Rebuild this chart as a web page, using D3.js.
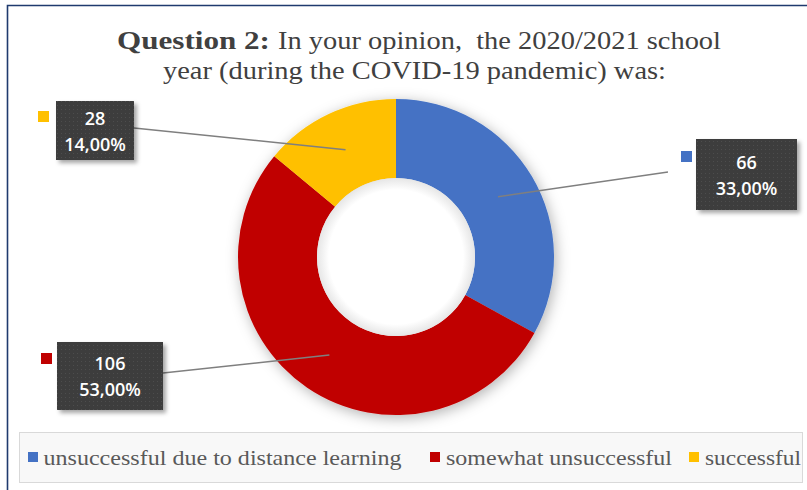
<!DOCTYPE html>
<html><head><meta charset="utf-8">
<script src="https://cdn.jsdelivr.net/npm/d3@7"></script>
<style>html,body{margin:0;padding:0;background:#fff;}svg{display:block;}</style>
</head><body>
<script>
const categories = ["unsuccessful due to distance learning", "somewhat unsuccessful", "successful"];
const values = [66, 106, 28];
const percentLabels = ["33,00%", "53,00%", "14,00%"];
const colors = ["#4472C4", "#C00000", "#FFC000"];
const titleBold = "Question 2:";
const titleRest = "In your opinion,  the 2020/2021 school";
const titleLine2 = "year (during the COVID-19 pandemic) was:";

const W = 807, H = 490;
const svg = d3.select("body").append("svg").attr("width", W).attr("height", H);
const defs = svg.append("defs");

const f = defs.append("filter").attr("id", "ds").attr("x", "-20%").attr("y", "-20%").attr("width", "140%").attr("height", "140%");
f.append("feDropShadow").attr("dx", 2).attr("dy", 3).attr("stdDeviation", 7).attr("flood-color", "#000").attr("flood-opacity", 0.3);
const f2 = defs.append("filter").attr("id", "bs").attr("x", "-20%").attr("y", "-20%").attr("width", "150%").attr("height", "150%");
f2.append("feDropShadow").attr("dx", 3).attr("dy", 3).attr("stdDeviation", 2).attr("flood-color", "#000").attr("flood-opacity", 0.35);
const pat = defs.append("pattern").attr("id", "dots").attr("width", 4).attr("height", 4).attr("patternUnits", "userSpaceOnUse");
pat.append("rect").attr("width", 4).attr("height", 4).attr("fill", "#3d3d3d");
pat.append("rect").attr("x", 1).attr("y", 1).attr("width", 1).attr("height", 1).attr("fill", "#4d4d4d");
const rg = defs.append("radialGradient").attr("id", "hole");
rg.append("stop").attr("offset", "0.85").attr("stop-color", "#fff");
rg.append("stop").attr("offset", "1").attr("stop-color", "#e6e6e6");

// frame
svg.append("path").attr("d", `M7.5,${H} V5.5 H${W}`).attr("fill", "none").attr("stroke", "#1f3a6e").attr("stroke-width", 1.6);

// title
const tc = "#404040";
svg.append("text").attr("x", 117).attr("y", 49).attr("font-family", "Liberation Serif").attr("font-size", 25)
  .attr("font-weight", "bold").attr("fill", tc).attr("textLength", 153).attr("lengthAdjust", "spacingAndGlyphs").text(titleBold);
svg.append("text").attr("x", 278).attr("y", 49).attr("font-family", "Liberation Serif").attr("font-size", 25)
  .attr("fill", tc).attr("textLength", 443).attr("lengthAdjust", "spacingAndGlyphs").style("white-space", "pre").text(titleRest);
svg.append("text").attr("x", 163).attr("y", 79).attr("font-family", "Liberation Serif").attr("font-size", 25)
  .attr("fill", tc).attr("textLength", 503).attr("lengthAdjust", "spacingAndGlyphs").text(titleLine2);

// donut
const cx = 396, cy = 257, rOut = 158, rIn = 79;
const pie = d3.pie().sort(null).value(d => d)(values);
const arc = d3.arc().innerRadius(rIn).outerRadius(rOut);
const g = svg.append("g").attr("transform", `translate(${cx},${cy})`);
g.append("g").attr("filter", "url(#ds)").selectAll("path").data(pie).join("path")
  .attr("d", arc).attr("fill", (d, i) => colors[i]);
g.append("circle").attr("r", rIn).attr("fill", "url(#hole)");

// labels
const boxes = [
  {x: 696, y: 139, w: 101, h: 71, key: [681, 151], end: [668, 172]},
  {x: 57, y: 342, w: 106, h: 68, key: [41, 353], end: [163, 373]},
  {x: 56, y: 101, w: 78, h: 59, key: [38, 111], end: [134, 128]}
];
pie.forEach((d, i) => {
  const b = boxes[i];
  const c = arc.centroid(d);
  svg.append("line").attr("x1", cx + c[0]).attr("y1", cy + c[1]).attr("x2", b.end[0]).attr("y2", b.end[1])
    .attr("stroke", "#7f7f7f").attr("stroke-width", 1.5);
  svg.append("rect").attr("x", b.key[0]).attr("y", b.key[1]).attr("width", 11).attr("height", 11).attr("fill", colors[i]);
  svg.append("rect").attr("x", b.x).attr("y", b.y).attr("width", b.w).attr("height", b.h)
    .attr("fill", "url(#dots)").attr("filter", "url(#bs)");
  const tx = b.x + b.w / 2, my = b.y + b.h / 2;
  svg.append("text").attr("x", tx).attr("y", my - 6).attr("text-anchor", "middle")
    .attr("font-family", "Open Sans").attr("font-weight", 600).attr("font-size", 18).attr("fill", "#fff").text(values[i]);
  svg.append("text").attr("x", tx).attr("y", my + 20).attr("text-anchor", "middle")
    .attr("font-family", "Open Sans").attr("font-weight", 600).attr("font-size", 18).attr("fill", "#fff").text(percentLabels[i]);
});

// legend
svg.append("rect").attr("x", 19.5).attr("y", 432.5).attr("width", 783).attr("height", 50)
  .attr("fill", "#f8f8f8").attr("stroke", "#d9d9d9");
const legPos = [{k: 28, t: 43.5, w: 358}, {k: 430, t: 446, w: 226}, {k: 689, t: 705, w: 96}];
categories.forEach((c, i) => {
  const p = legPos[i];
  svg.append("rect").attr("x", p.k).attr("y", 452).attr("width", 10).attr("height", 10).attr("fill", colors[i]);
  svg.append("text").attr("x", p.t).attr("y", 465).attr("font-family", "Liberation Serif").attr("font-size", 21)
    .attr("fill", "#595959").attr("textLength", p.w).attr("lengthAdjust", "spacingAndGlyphs").text(c);
});
</script>
</body></html>
